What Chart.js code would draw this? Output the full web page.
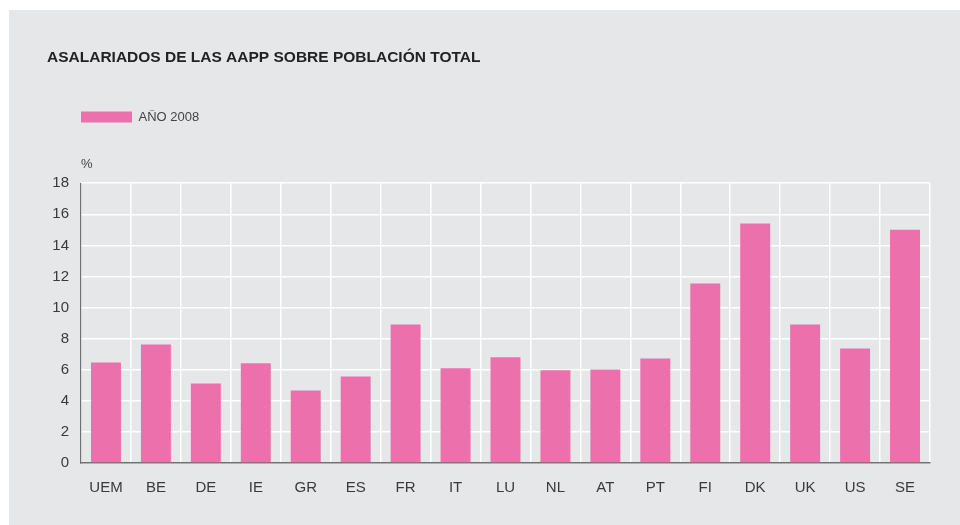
<!DOCTYPE html>
<html>
<head>
<meta charset="utf-8">
<script src="https://cdn.jsdelivr.net/npm/chart.js@4"></script>
<style>
  html, body { margin: 0; padding: 0; background: #ffffff; }
  #panel {
    position: absolute; left: 9px; top: 10px;
    width: 951px; height: 515px;
    background: #e6e7e8;
  }
</style>
</head>
<body>
<div id="panel"><canvas id="grafico"></canvas></div>
<script>
const paises = ['UEM', 'BE', 'DE', 'IE', 'GR', 'ES', 'FR', 'IT', 'LU', 'NL', 'AT', 'PT', 'FI', 'DK', 'UK', 'US', 'SE'];
const valores2008 = [6.47, 7.63, 5.12, 6.41, 4.67, 5.57, 8.91, 6.09, 6.80, 5.96, 6.02, 6.73, 11.55, 15.40, 8.91, 7.37, 15.00];
const ticksY = [0, 2, 4, 6, 8, 10, 12, 14, 16, 18];

const rosa = '#ec70ab';
const textoColor = '#3a3a3a';

new Chart(document.getElementById('grafico'), {
    type: 'bar',
    data: {
        labels: paises,
        datasets: [{
            label: 'AÑO 2008',
            data: valores2008,
            backgroundColor: rosa,
            borderWidth: 0,
            categoryPercentage: 1,
            barPercentage: 0.6
        }]
    },
    options: {
        responsive: true,
        maintainAspectRatio: false,
        animation: false,
        layout: {
            padding: { left: 38, right: 30, top: 0, bottom: 12 }
        },
        plugins: {
            title: {
                display: true,
                text: 'ASALARIADOS DE LAS AAPP SOBRE POBLACIÓN TOTAL',
                align: 'start',
                color: '#222222',
                font: { family: 'Liberation Sans', size: 15.5, weight: 'bold' },
                padding: { top: 38, bottom: 44 }
            },
            legend: {
                display: true,
                align: 'start',
                fullSize: false,
                labels: {
                    boxWidth: 51,
                    boxHeight: 11,
                    padding: 0,
                    color: '#444444',
                    font: { family: 'Liberation Sans', size: 13 }
                }
            },
            subtitle: {
                display: true,
                text: '%',
                align: 'start',
                fullSize: false,
                weight: 500,
                color: '#444444',
                font: { family: 'Liberation Sans', size: 13 },
                padding: { top: 23, bottom: 11 }
            },
            tooltip: { enabled: false }
        },
        scales: {
            x: {
                grid: { color: '#ffffff', lineWidth: 1.5, drawTicks: false, offset: true },
                border: { color: '#707070', width: 1.5 },
                ticks: {
                    color: textoColor,
                    padding: 16,
                    font: { family: 'Liberation Sans', size: 15 }
                }
            },
            y: {
                min: 0,
                max: 18,
                afterFit: function (scale) { scale.width = 34; },
                afterBuildTicks: function (scale) {
                    scale.ticks = ticksY.map(v => ({ value: v }));
                },
                grid: { color: '#ffffff', lineWidth: 1.5, drawTicks: false },
                border: { color: '#707070', width: 1.2 },
                ticks: {
                    color: textoColor,
                    padding: 12,
                    font: { family: 'Liberation Sans', size: 15 }
                }
            }
        }
    }
});
</script>
</body>
</html>
